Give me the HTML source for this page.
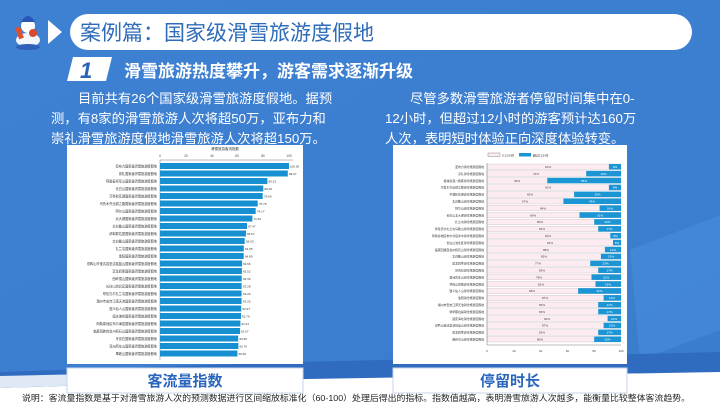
<!DOCTYPE html>
<html><head><meta charset="utf-8"><style>
html,body{margin:0;padding:0;width:720px;height:405px;overflow:hidden;}
svg{display:block}
text{font-family:"Liberation Sans","Noto Sans CJK SC",sans-serif;}
</style></head><body>
<svg width="720" height="405" viewBox="0 0 720 405" xmlns="http://www.w3.org/2000/svg">
<defs>
<linearGradient id="bg" x1="0" y1="0" x2="1" y2="1">
<stop offset="0" stop-color="#3e80d2"/><stop offset="1" stop-color="#3a7ccd"/>
</linearGradient>
</defs>
<rect width="720" height="405" fill="url(#bg)"/>
<polygon points="630,250 720,215 720,330 640,360" fill="#4a8ee0" opacity="0.6"/>
<polygon points="0,372 300,362 720,352 720,405 0,405" fill="#2f6cc0"/>
<polygon points="0,388 250,380 720,372 720,405 0,405" fill="#ffffff"/>
<polygon points="0,376 180,372 120,384 0,388" fill="#dfe8f5"/>

<!-- snowman -->
<ellipse cx="28" cy="40" rx="12" ry="7" fill="#f3f6fb"/>
<circle cx="28" cy="26" r="7" fill="#fff"/>
<path d="M21,22 Q28,10 35,22 Z" fill="#2a55b5"/>
<rect x="17" y="27" width="5" height="12" fill="#e05030" transform="rotate(-20 19 33)"/>
<circle cx="33" cy="33" r="4" fill="#d84a30"/>
<ellipse cx="28" cy="47" rx="12" ry="3" fill="#2f5fb8"/>
<polygon points="48,20 62,32 48,44" fill="#fff"/>

<!-- title bar -->
<rect x="70" y="14" width="622" height="36" rx="18" fill="#fff"/>
<text x="80" y="40" font-size="21" fill="#2e6bb8">案例篇：国家级滑雪旅游度假地</text>

<polygon points="73,57 112,57 106,81 67,81" fill="#fff"/>
<text x="80" y="78" font-size="22" font-weight="bold" font-style="italic" fill="#2a62b8">1</text>
<text x="124" y="77" font-size="17" font-weight="bold" fill="#fff">滑雪旅游热度攀升，游客需求逐渐升级</text>

<g font-size="13.3" fill="#fff">
<text x="78" y="103">目前共有26个国家级滑雪旅游度假地。据预</text>
<text x="51" y="123">测，有8家的滑雪旅游人次将超50万，亚布力和</text>
<text x="51" y="143">崇礼滑雪旅游度假地滑雪旅游人次将超150万。</text>
<text x="410" y="103">尽管多数滑雪旅游者停留时间集中在0-</text>
<text x="385" y="123">12小时，但超过12小时的游客预计达160万</text>
<text x="385" y="143">人次，表明短时体验正向深度体验转变。</text>
</g>

<!-- left panel -->
<rect x="67" y="145" width="236" height="219" fill="#fff"/>
<text x="225" y="150" font-size="3.5" fill="#333" text-anchor="middle">滑雪旅游客流指数</text>
<g font-size="3.2" fill="#444" text-anchor="middle">
<text x="160" y="157">0</text><text x="186" y="157">20</text><text x="212" y="157">40</text><text x="237" y="157">60</text><text x="263" y="157">80</text><text x="289" y="157">100</text>
</g>
<line x1="160" y1="160" x2="293" y2="160" stroke="#555" stroke-width="0.4"/>
<line x1="160" y1="160" x2="160" y2="360" stroke="#555" stroke-width="0.4"/>
<g fill="#1790d2">
<rect x="160" y="163" width="129" height="6"/>
<rect x="160" y="170.5" width="127.8" height="6"/>
<rect x="160" y="178" width="107.4" height="6"/>
<rect x="160" y="185.5" width="103.3" height="6"/>
<rect x="160" y="193" width="102.7" height="6"/>
<rect x="160" y="200.5" width="97.7" height="6"/>
<rect x="160" y="208" width="95.7" height="6"/>
<rect x="160" y="215.5" width="92.4" height="6"/>
<rect x="160" y="223" width="87" height="6"/>
<rect x="160" y="230.5" width="86" height="6"/>
<rect x="160" y="238" width="84.7" height="6"/>
<rect x="160" y="245.5" width="83.8" height="6"/>
<rect x="160" y="253" width="83.7" height="6"/>
<rect x="160" y="260.5" width="82.1" height="6"/>
<rect x="160" y="268" width="81.9" height="6"/>
<rect x="160" y="275.5" width="81.7" height="6"/>
<rect x="160" y="283" width="81.6" height="6"/>
<rect x="160" y="290.5" width="81.6" height="6"/>
<rect x="160" y="298" width="81.6" height="6"/>
<rect x="160" y="305.5" width="81.2" height="6"/>
<rect x="160" y="313" width="81" height="6"/>
<rect x="160" y="320.5" width="80.4" height="6"/>
<rect x="160" y="328" width="80.1" height="6"/>
<rect x="160" y="335.5" width="78.2" height="6"/>
<rect x="160" y="343" width="78.4" height="6"/>
<rect x="160" y="350.5" width="77.4" height="6"/>
</g>
<g font-size="3.2" fill="#333" text-anchor="end">
<text x="157" y="167.5">亚布力国家级滑雪旅游度假地</text>
<text x="157" y="175">崇礼国家级滑雪旅游度假地</text>
<text x="157" y="182.5">阿勒泰将军山国家级滑雪旅游度假地</text>
<text x="157" y="190">长白山国家级滑雪旅游度假地</text>
<text x="157" y="197.5">万科松花湖国家级滑雪旅游度假地</text>
<text x="157" y="205">乌鲁木齐丝绸之路国家级滑雪旅游度假地</text>
<text x="157" y="212.5">阿尔山国家级滑雪旅游度假地</text>
<text x="157" y="220">北大湖国家级滑雪旅游度假地</text>
<text x="157" y="227.5">太白鳌山国家级滑雪旅游度假地</text>
<text x="157" y="235">伊犁那拉提国家级滑雪旅游度假地</text>
<text x="157" y="242.5">太白鳌山国家级滑雪旅游度假地</text>
<text x="157" y="250">扎兰屯国家级滑雪旅游度假地</text>
<text x="157" y="257.5">渔阳国家级滑雪旅游度假地</text>
<text x="157" y="265">双鸭山市宝清县圣洁摇篮山国家级滑雪旅游度假地</text>
<text x="157" y="272.5">富龙四季国家级滑雪旅游度假地</text>
<text x="157" y="280">西岭雪山国家级滑雪旅游度假地</text>
<text x="157" y="287.5">长白山池北区国家级滑雪旅游度假地</text>
<text x="157" y="295">呼伦贝尔扎兰屯国家级滑雪旅游度假地</text>
<text x="157" y="302.5">湖州市安吉江南天池国家级滑雪旅游度假地</text>
<text x="157" y="310">遵义仙人山国家级滑雪旅游度假地</text>
<text x="157" y="317.5">延庆海坨国家级滑雪旅游度假地</text>
<text x="157" y="325">阿勒泰地区布尔津县国家级滑雪旅游度假地</text>
<text x="157" y="332.5">临夏回族自治州积石山国家级滑雪旅游度假地</text>
<text x="157" y="340">牙克石国家级滑雪旅游度假地</text>
<text x="157" y="347.5">亚洲风车山国家级滑雪旅游度假地</text>
<text x="157" y="355">翠峰山国家级滑雪旅游度假地</text>
</g>
<g font-size="3" fill="#333">
<text x="290" y="167.5">100.00</text><text x="289" y="175">99.07</text><text x="268.5" y="182.5">83.23</text><text x="264.5" y="190">80.05</text><text x="264" y="197.5">79.60</text><text x="259" y="205">75.76</text><text x="257" y="212.5">74.17</text><text x="253.5" y="220">71.64</text><text x="248" y="227.5">67.47</text><text x="247" y="235">66.67</text><text x="246" y="242.5">65.63</text><text x="245" y="250">64.95</text><text x="245" y="257.5">64.89</text><text x="243" y="265">63.66</text><text x="243" y="272.5">63.52</text><text x="243" y="280">63.30</text><text x="243" y="287.5">63.28</text><text x="243" y="295">63.26</text><text x="243" y="302.5">63.25</text><text x="242.5" y="310">62.97</text><text x="242" y="317.5">62.79</text><text x="241.5" y="325">62.31</text><text x="241" y="332.5">62.07</text><text x="239.5" y="340">60.65</text><text x="239.5" y="347.5">60.76</text><text x="238.5" y="355">60.00</text>
</g>
<rect x="67" y="368" width="236" height="25" fill="#fff" stroke="#c9d6ea" stroke-width="1"/>
<text x="185" y="386" font-size="15" font-weight="bold" fill="#2a66bd" text-anchor="middle">客流量指数</text>

<!-- right panel -->
<rect x="393" y="145" width="234" height="219" fill="#fff"/>
<rect x="488" y="153" width="12" height="3.5" fill="#fcebf0" stroke="#444" stroke-width="0.3"/>
<text x="502" y="156.3" font-size="3" fill="#333">0-12小时</text>
<rect x="519" y="153" width="12" height="3.5" fill="#1b95d4"/>
<text x="533" y="156.3" font-size="3" fill="#333">超过12小时</text>
<g fill="#fcebf0" stroke="#999" stroke-width="0.2">
<rect x="487" y="164" width="134" height="5.5"/><rect x="487" y="170.9" width="134" height="5.5"/><rect x="487" y="177.8" width="134" height="5.5"/><rect x="487" y="184.7" width="134" height="5.5"/><rect x="487" y="191.6" width="134" height="5.5"/><rect x="487" y="198.5" width="134" height="5.5"/><rect x="487" y="205.4" width="134" height="5.5"/><rect x="487" y="212.3" width="134" height="5.5"/><rect x="487" y="219.2" width="134" height="5.5"/><rect x="487" y="226.1" width="134" height="5.5"/><rect x="487" y="233" width="134" height="5.5"/><rect x="487" y="239.9" width="134" height="5.5"/><rect x="487" y="246.8" width="134" height="5.5"/><rect x="487" y="253.7" width="134" height="5.5"/><rect x="487" y="260.6" width="134" height="5.5"/><rect x="487" y="267.5" width="134" height="5.5"/><rect x="487" y="274.4" width="134" height="5.5"/><rect x="487" y="281.3" width="134" height="5.5"/><rect x="487" y="288.2" width="134" height="5.5"/><rect x="487" y="295.1" width="134" height="5.5"/><rect x="487" y="302" width="134" height="5.5"/><rect x="487" y="308.9" width="134" height="5.5"/><rect x="487" y="315.8" width="134" height="5.5"/><rect x="487" y="322.7" width="134" height="5.5"/><rect x="487" y="329.6" width="134" height="5.5"/><rect x="487" y="336.5" width="134" height="5.5"/>
</g>
<g fill="#1b95d4">
<rect x="608.9" y="164" width="12.1" height="5.5"/>
<rect x="586.2" y="170.9" width="34.8" height="5.5"/>
<rect x="547.3" y="177.8" width="73.7" height="5.5"/>
<rect x="608.9" y="184.7" width="12.1" height="5.5"/>
<rect x="574.1" y="191.6" width="46.9" height="5.5"/>
<rect x="563.4" y="198.5" width="57.6" height="5.5"/>
<rect x="599.6" y="205.4" width="21.4" height="5.5"/>
<rect x="579.5" y="212.3" width="41.5" height="5.5"/>
<rect x="594.2" y="219.2" width="26.8" height="5.5"/>
<rect x="598.2" y="226.1" width="22.8" height="5.5"/>
<rect x="610.3" y="233" width="10.7" height="5.5"/>
<rect x="613" y="239.9" width="8" height="5.5"/>
<rect x="604.9" y="246.8" width="16.1" height="5.5"/>
<rect x="600.9" y="253.7" width="20.1" height="5.5"/>
<rect x="590.2" y="260.6" width="30.8" height="5.5"/>
<rect x="598.2" y="267.5" width="22.8" height="5.5"/>
<rect x="591.5" y="274.4" width="29.5" height="5.5"/>
<rect x="595.5" y="281.3" width="25.5" height="5.5"/>
<rect x="578.1" y="288.2" width="42.9" height="5.5"/>
<rect x="603.6" y="295.1" width="17.4" height="5.5"/>
<rect x="598.2" y="302" width="22.8" height="5.5"/>
<rect x="598.2" y="308.9" width="22.8" height="5.5"/>
<rect x="607.6" y="315.8" width="13.4" height="5.5"/>
<rect x="603.6" y="322.7" width="17.4" height="5.5"/>
<rect x="598.2" y="329.6" width="22.8" height="5.5"/>
<rect x="594.2" y="336.5" width="26.8" height="5.5"/>
</g>
<g font-size="3" fill="#444" text-anchor="middle">
<text x="548" y="168">91%</text><text x="536" y="174.9">74%</text><text x="517" y="181.8">45%</text><text x="548" y="188.7">91%</text><text x="530" y="195.6">65%</text><text x="525" y="202.5">57%</text><text x="543" y="209.4">84%</text><text x="533" y="216.3">69%</text><text x="540" y="223.2">80%</text><text x="542" y="230.1">83%</text><text x="548" y="237">92%</text><text x="550" y="243.9">94%</text><text x="546" y="250.8">88%</text><text x="544" y="257.7">85%</text><text x="538" y="264.6">77%</text><text x="542" y="271.5">83%</text><text x="539" y="278.4">78%</text><text x="541" y="285.3">81%</text><text x="532" y="292.2">68%</text><text x="545" y="299.1">87%</text><text x="542" y="306">83%</text><text x="542" y="312.9">83%</text><text x="547" y="319.8">90%</text><text x="545" y="326.7">87%</text><text x="542" y="333.6">83%</text><text x="540" y="340.5">80%</text>
</g>
<g font-size="3" fill="#fff" text-anchor="middle">
<text x="615" y="168">9%</text><text x="603.6" y="174.9">26%</text><text x="584" y="181.8">55%</text><text x="615" y="188.7">9%</text><text x="597.5" y="195.6">35%</text><text x="592" y="202.5">43%</text><text x="610" y="209.4">16%</text><text x="600" y="216.3">31%</text><text x="607.5" y="223.2">20%</text><text x="609.5" y="230.1">17%</text><text x="615.5" y="237">8%</text><text x="617" y="243.9">6%</text><text x="613" y="250.8">12%</text><text x="611" y="257.7">15%</text><text x="605.5" y="264.6">23%</text><text x="609.5" y="271.5">17%</text><text x="606" y="278.4">22%</text><text x="608" y="285.3">19%</text><text x="599.5" y="292.2">32%</text><text x="612" y="299.1">13%</text><text x="609.5" y="306">17%</text><text x="609.5" y="312.9">17%</text><text x="614" y="319.8">10%</text><text x="612" y="326.7">13%</text><text x="609.5" y="333.6">17%</text><text x="607.5" y="340.5">20%</text>
</g>
<g font-size="2.9" fill="#333" text-anchor="end">
<text x="484" y="168">亚布力滑雪旅游度假地</text><text x="484" y="174.9">崇礼滑雪旅游度假地</text><text x="484" y="181.8">桂林资源八角寨滑雪旅游度假地</text><text x="484" y="188.7">乌鲁木齐丝绸之路滑雪旅游度假地</text><text x="484" y="195.6">平湖松花湖滑雪旅游度假地</text><text x="484" y="202.5">太白鳌山滑雪旅游度假地</text><text x="484" y="209.4">阿尔山滑雪旅游度假地</text><text x="484" y="216.3">长白山北大湖滑雪旅游度假地</text><text x="484" y="223.2">扎兰屯滑雪旅游度假地</text><text x="484" y="230.1">呼伦贝尔扎兰屯马鞍山滑雪旅游度假地</text><text x="484" y="237">阿勒泰地区布尔津县禾木滑雪旅游度假地</text><text x="484" y="243.9">长白山池北区滑雪旅游度假地</text><text x="484" y="250.8">临夏回族自治州积石山滑雪旅游度假地</text><text x="484" y="257.7">太白鳌山滑雪旅游度假地</text><text x="484" y="264.6">富龙四季滑雪旅游度假地</text><text x="484" y="271.5">牙克石滑雪旅游度假地</text><text x="484" y="278.4">亚洲风车山滑雪旅游度假地</text><text x="484" y="285.3">翠峰山凤凰滑雪旅游度假地</text><text x="484" y="292.2">遵义仙人山滑雪旅游度假地</text><text x="484" y="299.1">渔阳滑雪旅游度假地</text><text x="484" y="306">湖州市安吉江南天池滑雪旅游度假地</text><text x="484" y="312.9">伊犁那拉提滑雪旅游度假地</text><text x="484" y="319.8">延庆海坨滑雪旅游度假地</text><text x="484" y="326.7">双鸭山宝清圣洁摇篮山滑雪旅游度假地</text><text x="484" y="333.6">富龙四季滑雪旅游度假地</text><text x="484" y="340.5">西岭雪山滑雪旅游度假地</text>
</g>
<line x1="487" y1="163" x2="487" y2="345" stroke="#555" stroke-width="0.4"/>
<line x1="487" y1="345" x2="621" y2="345" stroke="#555" stroke-width="0.4"/>
<g font-size="3" fill="#444" text-anchor="middle">
<text x="487" y="352">0</text><text x="514" y="352">20</text><text x="540.6" y="352">40</text><text x="567.4" y="352">60</text><text x="594.2" y="352">80</text><text x="621" y="352">100</text>
</g>
<rect x="393" y="368" width="234" height="25" fill="#fff" stroke="#c9d6ea" stroke-width="1"/>
<text x="510" y="386" font-size="15" font-weight="bold" fill="#2a66bd" text-anchor="middle">停留时长</text>

<text x="22" y="401" font-size="8.4" fill="#222" textLength="668" lengthAdjust="spacingAndGlyphs" font-family="'Liberation Serif','Noto Serif CJK SC',serif">说明：客流量指数是基于对滑雪旅游人次的预测数据进行区间缩放标准化（60-100）处理后得出的指标。指数值越高，表明滑雪旅游人次越多，能衡量比较整体客流趋势。</text>
</svg>
</body></html>
